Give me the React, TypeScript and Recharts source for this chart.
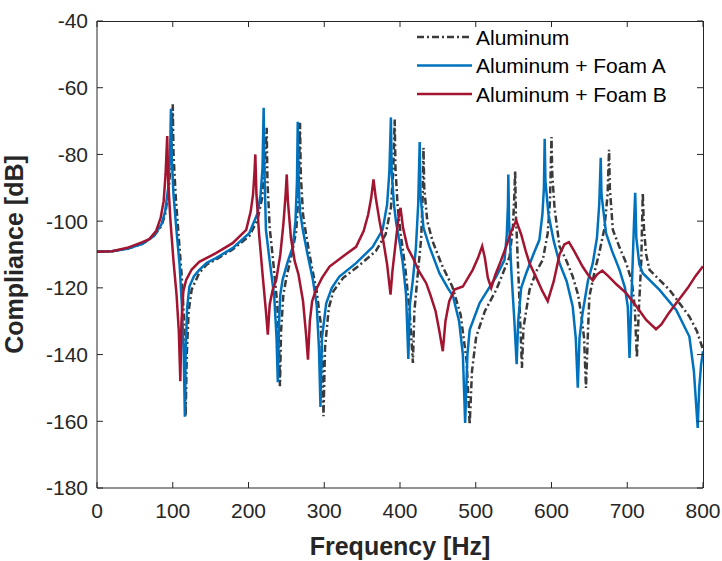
import React from 'react';
import { LineChart, Line, XAxis, YAxis } from 'recharts';

const xTicks = [0, 100, 200, 300, 400, 500, 600, 700, 800];
const yTicks = [-180, -160, -140, -120, -100, -80, -60, -40];

const seriesNames = ['Aluminum', 'Aluminum + Foam A', 'Aluminum + Foam B'];

const alumHz = [0, 20, 40, 60, 75, 85, 90, 95, 98, 100, 101, 104, 108, 112, 115, 117, 118.5, 121, 125, 135, 145, 157, 179, 201, 212, 218, 221, 224, 225, 228, 233, 238, 240.5, 241.5, 243, 246, 250, 257, 263, 266, 268, 269, 272, 276, 283, 290, 295, 297.5, 299, 301, 306, 312, 325, 345, 368, 381, 388, 391, 393, 394, 397, 401, 407, 413, 417, 419, 423, 428, 430, 431, 432, 436, 443, 455, 469, 480, 488, 492, 495, 500.6, 512, 527, 544.6, 549, 551, 552, 553, 557, 561, 563, 571, 580, 588.5, 595, 598, 600, 601, 604, 610.6, 620, 628, 635, 639, 643, 645.5, 648, 650, 657, 663, 670, 674, 676, 677, 681, 690, 698.6, 706, 710, 712.7, 715, 718.5, 720.5, 722, 725, 729.4, 755.8, 782, 792, 800];
const alumDb = [-109.2, -109, -108.3, -106.8, -104.5, -101.5, -98, -90, -80, -65, -80, -93, -105, -117, -130, -158.5, -140, -127, -120.5, -115.5, -113, -111.5, -108.5, -104.5, -99.5, -93, -85, -72, -88, -102, -113, -125, -138, -149.5, -133, -122, -117, -110, -103, -92, -70.5, -86, -98, -104, -113, -121, -130, -142, -158.5, -138, -126, -121, -117, -113.5, -109, -104, -96, -85, -69.5, -84, -96, -104, -114, -128, -142.5, -127, -117, -105, -92, -78, -90, -100, -106, -113, -119.6, -128, -142, -161, -145, -134.6, -127, -120.6, -110.7, -102, -92, -85, -98, -120, -144, -132, -120.6, -115, -111.6, -103.6, -94, -74.8, -86, -96, -107.6, -112, -116.6, -122, -127.6, -135, -150, -134, -122.6, -115, -109.6, -102, -92, -78.6, -90, -102.6, -108, -112.6, -118, -126, -141, -128, -112, -91.5, -102, -110, -114.6, -120.6, -128.6, -133, -138.5];

const foamAHz = [0, 20, 40, 60, 75, 85, 90, 94, 96.5, 97.6, 98.5, 101, 105, 109, 112, 114.5, 116, 117, 119, 122, 128, 135, 145, 157, 179, 201, 212, 216, 218.5, 220, 221, 223, 228, 234, 237, 238.7, 240, 242, 245, 252, 258.5, 262, 264, 265, 266, 268, 271.7, 278, 285, 290, 293, 295, 297, 302.6, 310, 320, 342, 364, 377, 383, 386, 388, 389, 392, 395, 400, 403.7, 408, 411, 413, 417, 421, 424, 426, 427, 431, 439, 452, 463, 470, 478, 483, 486, 489, 492, 505, 527, 538, 541, 542.5, 543, 544, 547, 551, 554, 556, 560, 566.6, 576, 584, 588, 590, 591, 592, 596, 603, 610.6, 620, 628, 632, 634.7, 637, 641, 648, 654.5, 660, 663, 665, 666, 672, 680, 689.8, 697, 700.7, 703, 706, 709, 710.5, 712, 716, 720.5, 742.6, 764.6, 782, 788, 793, 795, 797.5, 800];
const foamADb = [-109.2, -109, -108.3, -106.8, -104.5, -101, -97, -90, -80, -66.3, -80, -92, -103, -113, -125, -140, -158.6, -140, -126, -119.6, -116.5, -114.6, -112.5, -111.1, -108.1, -103.6, -97.6, -92, -84, -66, -84, -102.6, -112, -122.6, -135, -148.3, -132, -122, -117.6, -112, -107.7, -100, -88, -70.2, -88, -97, -102.6, -110, -117.6, -125, -138, -155.7, -135, -124.6, -120, -116.6, -112.6, -107.7, -102.6, -95, -85, -68.9, -85, -95, -100.6, -107, -112.6, -122, -141.3, -125, -117.6, -108, -95, -76.3, -92, -102, -107.7, -115.6, -120, -122.5, -130, -140, -160.5, -140, -132.6, -124.6, -116.6, -111.6, -104, -95, -86, -100, -115, -130, -142.9, -130, -120, -115.6, -110, -105.6, -98, -90, -75.3, -88, -98, -106, -112.6, -118, -125.6, -135, -149.9, -135, -127.6, -118, -112.6, -105, -95, -81, -92, -103.6, -109, -114.6, -120, -125.6, -141, -120, -100, -91.5, -105, -113, -115.6, -120.6, -126.6, -134.6, -145, -162, -150, -143, -139];

const foamBHz = [0, 20, 40, 60, 69, 78, 84, 88, 90.5, 92.7, 94, 97, 101, 105, 108, 110, 111.5, 114, 117.7, 125, 135, 157, 179, 197, 203, 206, 208, 209, 210.5, 214, 219, 223, 225.5, 228, 232, 236.6, 242, 246, 249, 250.5, 252, 256, 261, 266, 272, 276, 278.5, 281, 284, 289, 297, 307, 325, 342, 352, 358, 362, 365, 368, 373, 378, 383, 387.5, 390, 395, 398, 400.7, 404, 410, 417, 425, 434.6, 440, 447, 452, 456.5, 460, 465, 472, 483, 496, 503, 508.5, 512, 516, 520.4, 526, 533, 540, 547, 553.4, 560, 566, 571, 580, 588, 595, 603, 610.6, 617, 623, 630, 641, 648, 654.5, 660, 667, 675, 686, 698.6, 712, 725, 738, 745, 755, 764.6, 780, 790, 800];
const foamBDb = [-109.2, -109, -108, -106.3, -105.4, -103, -99, -94, -86, -74.5, -88, -100, -112, -122, -133, -148, -130, -121, -117.6, -114.5, -112.2, -109.6, -106.6, -102.6, -97, -92, -85, -80, -92, -104, -117, -127, -134, -125, -120.5, -117.6, -110, -101, -92, -86, -94, -105, -112, -116, -124, -134, -141.5, -130, -124, -120.6, -117, -113.6, -110.5, -107.7, -103, -98, -93, -87.5, -93, -100, -106, -113, -122, -115, -105, -99, -96, -102, -108, -111, -115, -118.6, -122, -127, -133, -139, -130, -124, -120.5, -119.6, -114.6, -111, -107.5, -111, -117, -120, -116, -112, -107.7, -103, -99.8, -104, -109, -112.6, -117, -121, -124, -118, -110, -107, -106.3, -109, -113.6, -116, -117.8, -116, -114.8, -116.5, -119, -121.6, -125.5, -129.6, -132.4, -131, -127.5, -124.6, -120, -116.5, -113.5];

const toRows = (hz: number[], db: number[]) => hz.map((h, i) => ({ hz: h, db: db[i] }));
const alumData = toRows(alumHz, alumDb);
const foamAData = toRows(foamAHz, foamADb);
const foamBData = toRows(foamBHz, foamBDb);

const X_DOMAIN: [number, number] = [0, 800];
const Y_DOMAIN: [number, number] = [-180, -40];

// plot box (layout only)
const PLOT = { left: 97, top: 21, width: 606, height: 467 };

const COLORS = ['#3a3a3a', '#0072BD', '#A2142F'];
const DASH = '7 3 2 3';
const FONT = '"Liberation Sans", Arial, Helvetica, sans-serif';
const AXIS = '#262626';

const LegendBox = () => (
  <svg width={290} height={90} style={{ position: 'absolute', left: 415, top: 22 }}>
    {seriesNames.map((name, i) => {
      const cy = 15 + i * 28.5;
      return (
        <g key={name}>
          <line x1={2} x2={57} y1={cy} y2={cy} stroke={COLORS[i]} strokeWidth={2.5}
            strokeDasharray={i === 0 ? DASH : undefined} />
          <text x={61} y={cy} dy="0.36em" fontSize={21} fontFamily={FONT} fill="#000">{name}</text>
        </g>
      );
    })}
  </svg>
);

// top/right box edges with inward ticks (MATLAB "box on")
const BoxFrame = () => {
  const sx = (v: number) => ((v - X_DOMAIN[0]) / (X_DOMAIN[1] - X_DOMAIN[0])) * PLOT.width;
  const sy = (v: number) => ((Y_DOMAIN[1] - v) / (Y_DOMAIN[1] - Y_DOMAIN[0])) * PLOT.height;
  return (
    <svg width={PLOT.width + 2} height={PLOT.height + 2}
      style={{ position: 'absolute', left: PLOT.left, top: PLOT.top, pointerEvents: 'none', overflow: 'visible' }}>
      <line x1={0} y1={0.5} x2={PLOT.width + 0.5} y2={0.5} stroke={AXIS} strokeWidth={1} />
      <line x1={PLOT.width + 0.5} y1={0} x2={PLOT.width + 0.5} y2={PLOT.height} stroke={AXIS} strokeWidth={1} />
      {xTicks.map((t) => (
        <line key={'tx' + t} x1={sx(t)} x2={sx(t)} y1={0} y2={6} stroke={AXIS} strokeWidth={1} />
      ))}
      {yTicks.map((t) => (
        <line key={'ty' + t} x1={PLOT.width} x2={PLOT.width - 6} y1={sy(t)} y2={sy(t)} stroke={AXIS} strokeWidth={1} />
      ))}
    </svg>
  );
};

export default function App() {
  return (
    <div style={{ position: 'absolute', left: 0, top: 0, width: 722, height: 561, background: '#fff' }}>
      <LineChart width={722} height={561} margin={{ top: 21, right: 19, bottom: 0, left: 0 }}>
        <XAxis dataKey="hz" type="number" domain={X_DOMAIN} ticks={xTicks} allowDataOverflow
          allowDuplicatedCategory={false} height={73} tickSize={-6} tickMargin={21}
          stroke={AXIS} tick={{ fill: AXIS, fontSize: 21, fontFamily: FONT }}
          label={{ value: 'Frequency [Hz]', position: 'insideBottom', offset: 6, fill: AXIS,
            style: { fontSize: 25, fontWeight: 'bold', fontFamily: FONT } }} />
        <YAxis type="number" domain={Y_DOMAIN} ticks={yTicks} width={97} allowDataOverflow
          tickSize={-6} tickMargin={15} stroke={AXIS} tick={{ fill: AXIS, fontSize: 21, fontFamily: FONT }}
          label={{ value: 'Compliance [dB]', angle: -90, position: 'insideLeft', offset: 14, fill: AXIS,
            style: { textAnchor: 'middle', fontSize: 25, fontWeight: 'bold', fontFamily: FONT } }} />
        <Line data={alumData} dataKey="db" name={seriesNames[0]} type="linear"
          stroke={COLORS[0]} strokeWidth={2.5} strokeDasharray={DASH} dot={false} isAnimationActive={false} />
        <Line data={foamAData} dataKey="db" name={seriesNames[1]} type="linear"
          stroke={COLORS[1]} strokeWidth={2.5} dot={false} isAnimationActive={false} />
        <Line data={foamBData} dataKey="db" name={seriesNames[2]} type="linear"
          stroke={COLORS[2]} strokeWidth={2.5} dot={false} isAnimationActive={false} />
      </LineChart>
      <BoxFrame />
      <LegendBox />
    </div>
  );
}
